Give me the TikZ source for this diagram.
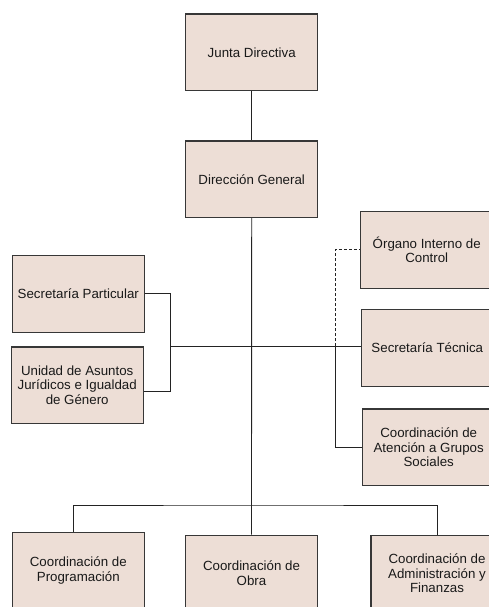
\documentclass[tikz,border=0pt]{standalone}
\usepackage{fontspec}
\setmainfont{Liberation Sans}
\usetikzlibrary{positioning}
\definecolor{boxfill}{RGB}{237,222,214}
\definecolor{boxline}{RGB}{55,55,55}
\definecolor{linkcolor}{RGB}{35,35,35}

\begin{document}
\begin{tikzpicture}[x=1pt, y=-1pt,
    unit/.style={draw=boxline, fill=boxfill, line width=1.1pt, minimum width=132pt,
      minimum height=76.5pt, inner sep=0pt, align=center, text=black!90,
      font=\fontsize{13.3}{14.6}\selectfont},
    link/.style={draw=linkcolor, line width=0.85pt}]
        \useasboundingbox (0,0) rectangle (489,607);
        \fill[white] (0,0) rectangle (489,607);
        \clip (0,0) rectangle (489,607);

        % top of the chart
        \node[unit] (junta) at (251.7,52.3) {Junta Directiva};
        \node[unit] (direccion) at (251.7,179.2) {Dirección General};

        % left staff units
        \node[unit] (particular) at (78.3,293.8) {Secretaría Particular};
        \node[unit] (unidad) at (77.2,385.2) {Unidad de Asuntos\\Jurídicos e Igualdad\\de Género};

        % right staff units
        \node[unit] (organo) at (426.7,249.8) {Órgano Interno de\\Control};
        \node[unit] (tecnica) at (427.3,347.8) {Secretaría Técnica};
        \node[unit] (atencion) at (428.7,447.2) {Coordinación de\\Atención a Grupos\\Sociales};

        % bottom row
        \node[unit] (programacion) at (78.3,570.7) {Coordinación de\\Programación};
        \node[unit] (obra) at (251.5,573.3) {Coordinación de\\Obra};
        \node[unit] (admin) at (437,573.3) {Coordinación de\\Administración y\\Finanzas};

        % joints
        \coordinate (lhub) at (170.7,346);
        \coordinate (rhub) at (335,346);
        \coordinate (bus) at (251.7,505);

        \draw[link] (junta) -- (direccion);
        \draw[link] (direccion) -- (obra);
        \draw[link] (particular.east) -| (lhub) |- ([yshift=-6pt]unidad.east);
        \draw[link] (lhub) -- (lhub -| tecnica.west);
        \draw[link, dash pattern=on 3pt off 2pt] (rhub) |- (organo.west);
        \draw[link] (rhub) |- (atencion.west);
        \draw[link] ([xshift=-5pt]programacion.north) |- (bus) -| (admin.north);
      \end{tikzpicture}
\end{document}
